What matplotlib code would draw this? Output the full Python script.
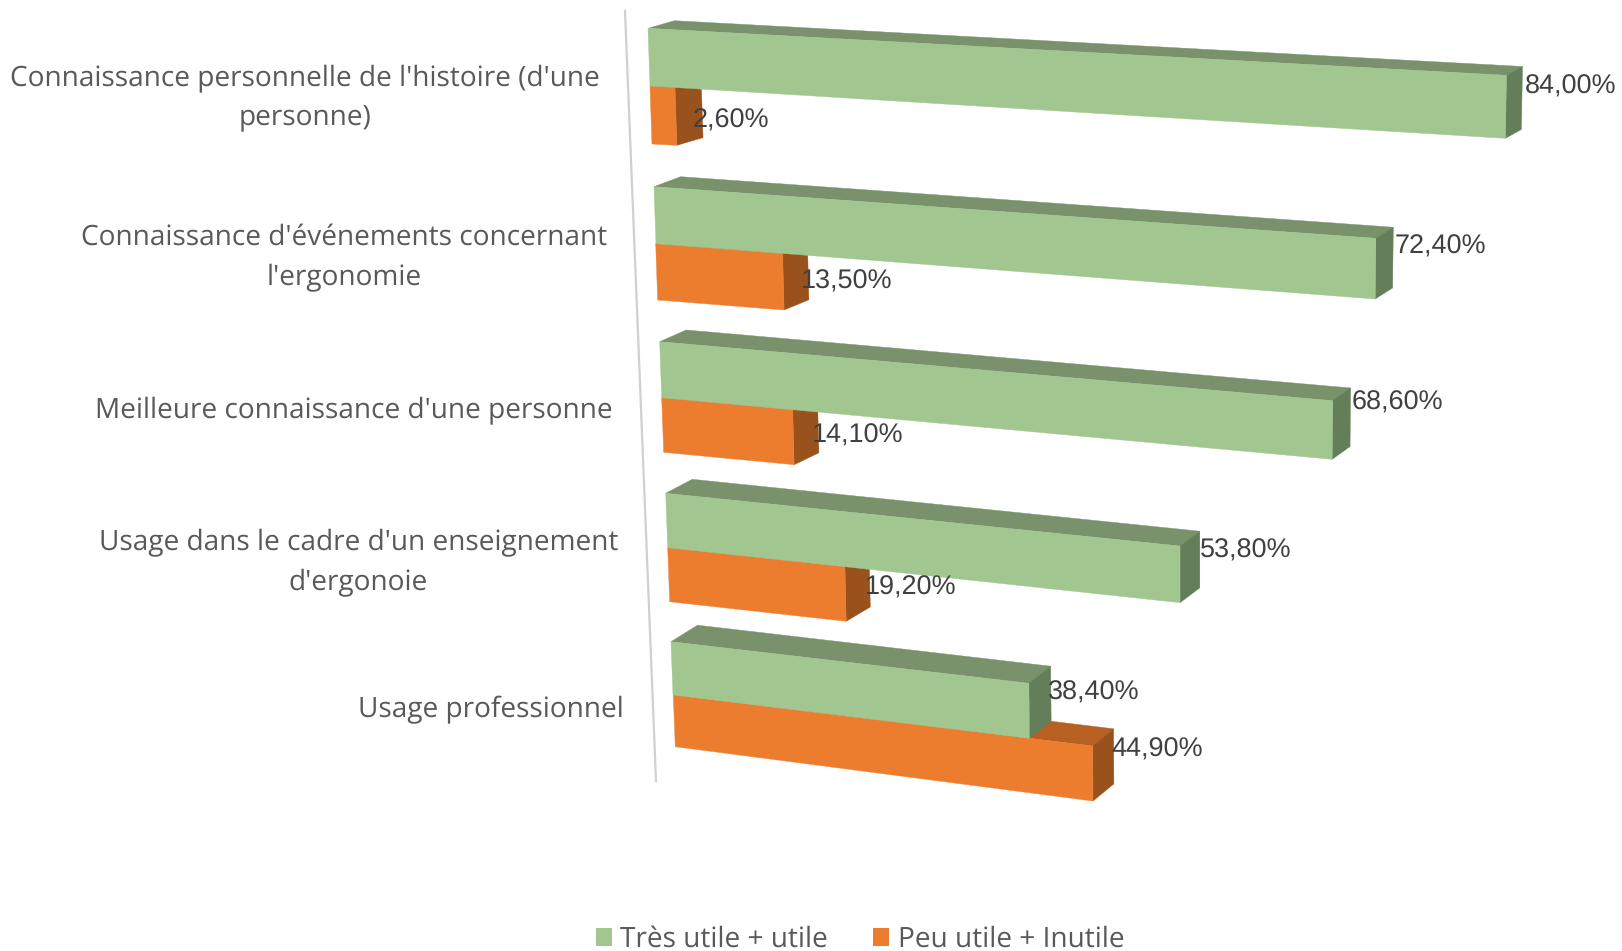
import matplotlib
matplotlib.use("Agg")
import matplotlib.pyplot as plt
from matplotlib.patches import Polygon, Patch

# data
categories = [
    "Connaissance personnelle de l'histoire (d'une\npersonne)",
    "Connaissance d'événements concernant\nl'ergonomie",
    "Meilleure connaissance d'une personne",
    "Usage dans le cadre d'un enseignement\nd'ergonoie",
    "Usage professionnel",
]
utile = [84.0, 72.4, 68.6, 53.8, 38.4]
inutile = [2.6, 13.5, 14.1, 19.2, 44.9]
series_names = ["Très utile + utile", "Peu utile + Inutile"]

# fake 3D: each bar row gets its own origin and scale, per percent, in pixels
green_geo = dict(
    x0=[648, 654, 659.7, 665.7, 671],
    y0=[28.3, 186.7, 341.7, 493.3, 641.7],
    y1=[86, 243.7, 397.7, 547.7, 695],
    kx=[10.22, 9.97, 9.81, 9.56, 9.32],
    top_slope=[0.56, 0.713, 0.86, 0.98, 1.083],
    bot_slope=[0.623, 0.764, 0.898, 1.022, 1.128],
)
orange_geo = dict(
    x0=[650, 655.7, 661.7, 667.7, 673.3],
    y0=[86, 243.7, 397.7, 547.7, 695],
    y1=[144, 300, 452.3, 601.7, 746.7],
    kx=[9.6, 9.4, 9.29, 9.23, 9.34],
    top_slope=[0.62, 0.764, 0.82, 0.99, 1.136],
    bot_slope=[0.5, 0.74, 0.88, 1.02, 1.21],
)
depth_dy = [-7.6, -10, -11.7, -14, -16.5]

# label offsets from the back top right corner of the bar
green_label = [(2, 20), (1, 19), (1, 15), (0, 19.5), (-3, 26)]
orange_label = [(-8, 41), (-6, 37.5), (-5, 38), (-4, 35), (-2, 21)]

# colours
green = ["#a2c690", "#79926b", "#647e59"]
orange = ["#ed7d2e", "#b85f22", "#9a521c"]

plt.rcParams["font.family"] = "Open Sans"
plt.rcParams["text.hinting"] = "no_hinting"
plt.rcParams["text.hinting_factor"] = 1

fig = plt.figure(figsize=(16.22, 9.51), dpi=100)
ax = fig.add_axes([0, 0, 1, 1])
ax.set_xlim(0, 1622)
ax.set_ylim(951, 0)
ax.set_axis_off()

# axis line
ax.plot([625, 656], [11, 781], color="#d0d0d0", lw=1.6, zorder=1)


def face(pts, color, z):
    ax.add_patch(Polygon(pts, closed=True, facecolor=color, edgecolor=color, lw=0.3, zorder=z))


def draw_bar(i, v, geo, cols, z):
    xl = geo["x0"][i]
    yt = geo["y0"][i]
    yb = geo["y1"][i]
    xr = xl + geo["kx"][i] * v
    ytr = yt + geo["top_slope"][i] * v
    ybr = yb + geo["bot_slope"][i] * v
    # bottom edge leans a little against the top one
    xlb = xl + 2
    xrb = xr + 2 - 0.037 * v
    dx0 = 26.5
    dx1 = 26.5 - 0.125 * v
    dy0 = depth_dy[i]
    dy1 = depth_dy[i] - 0.015 * v
    face([(xl, yt), (xr, ytr), (xr + dx1, ytr + dy1), (xl + dx0, yt + dy0)], cols[1], z)
    face([(xr, ytr), (xrb, ybr), (xrb + dx1, ybr + dy1), (xr + dx1, ytr + dy1)], cols[2], z)
    face([(xl, yt), (xr, ytr), (xrb, ybr), (xlb, yb)], cols[0], z + 0.1)
    return xr + dx1, ytr + dy1


# orange goes first, the green row sits in front of it
corners_o = [draw_bar(i, inutile[i], orange_geo, orange, 2 + i * 0.01) for i in range(5)]
corners_g = [draw_bar(i, utile[i], green_geo, green, 3 + i * 0.01) for i in range(5)]

for i in range(5):
    for val, corner, off in [(utile[i], corners_g[i], green_label[i]),
                             (inutile[i], corners_o[i], orange_label[i])]:
        ax.text(corner[0] + off[0], corner[1] + off[1], f"{val:.2f}%".replace(".", ","),
                fontsize=19.55, color="#404040", family="Liberation Sans",
                ha="left", va="center", zorder=5)

# category labels
label_x = [600, 607, 613, 618, 624]
label_y = [98, 258, 410, 563, 710]
for i, name in enumerate(categories):
    ax.text(label_x[i], label_y[i], name, fontsize=20.0, color="#595959",
            ha="right", va="center", multialignment="center", linespacing=1.59, zorder=5)

handles = [Patch(facecolor=green[0], label=series_names[0]),
           Patch(facecolor=orange[0], label=series_names[1])]
ax.legend(handles=handles, loc="center", bbox_to_anchor=(860, 939.5), bbox_transform=ax.transData,
          ncol=2, frameon=False, fontsize=20.3, labelcolor="#595959",
          handlelength=0.57, handleheight=0.62, handletextpad=0.3, columnspacing=1.6,
          borderpad=0, borderaxespad=0)

fig.savefig("out.png", dpi=100)
